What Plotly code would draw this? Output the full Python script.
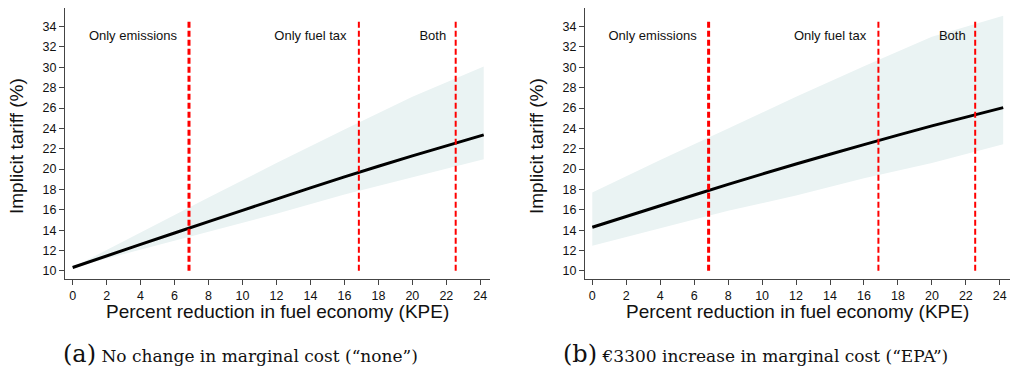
import plotly.graph_objects as go

# Data
x_pts = [0, 4, 8, 12, 16, 20, 24.2]
none_mid = [10.33, 12.6, 14.84, 17.05, 19.24, 21.3, 23.36]
none_up = [10.33, 13.8, 17.2, 20.6, 23.9, 27.1, 30.07]
none_lo = [10.33, 12.1, 13.9, 15.6, 17.5, 19.2, 20.97]
epa_mid = [14.29, 16.4, 18.5, 20.5, 22.4, 24.25, 26.04]
epa_up = [17.69, 20.9, 24.0, 27.1, 30.1, 33.0, 35.08]
epa_lo = [12.46, 14.2, 15.9, 17.4, 19.1, 20.6, 22.44]

thresholds = [6.85, 16.85, 22.55]
threshold_widths = [3, 2, 2]
region_labels = ["Only emissions", "Only fuel tax", "Both"]
region_label_x = [3.55, 14.0, 21.2]
vline_y = [10, 34.7]

x_ticks = list(range(0, 25, 2))
y_ticks = list(range(10, 35, 2))

captions = [("(a)", "No change in marginal cost (“none”)"),
            ("(b)", "€3300 increase in marginal cost (“EPA”)")]

band_color = "#eaf3f3"

fig = go.Figure()

panels = [(none_mid, none_up, none_lo), (epa_mid, epa_up, epa_lo)]
for i, (mid, up, lo) in enumerate(panels):
    xa = "x" if i == 0 else "x2"
    ya = "y" if i == 0 else "y2"
    fig.add_trace(go.Scatter(x=x_pts, y=lo, mode="lines", line=dict(width=0),
                             xaxis=xa, yaxis=ya, showlegend=False, hoverinfo="skip"))
    fig.add_trace(go.Scatter(x=x_pts, y=up, mode="lines", line=dict(width=0),
                             fill="tonexty", fillcolor=band_color,
                             xaxis=xa, yaxis=ya, showlegend=False, hoverinfo="skip"))
    fig.add_trace(go.Scatter(x=x_pts, y=mid, mode="lines",
                             line=dict(color="black", width=3, shape="spline", smoothing=0.6),
                             xaxis=xa, yaxis=ya, showlegend=False))
    for t, w in zip(thresholds, threshold_widths):
        fig.add_trace(go.Scatter(x=[t, t], y=vline_y, mode="lines",
                                 line=dict(color="#ff0000", width=w, dash="6px,3px"),
                                 xaxis=xa, yaxis=ya, showlegend=False))
    fig.add_trace(go.Scatter(x=region_label_x, y=[33.0] * 3, mode="text", text=region_labels,
                             textfont=dict(family="Liberation Sans, Arial", size=13, color="#111"),
                             xaxis=xa, yaxis=ya, showlegend=False))

xdoms = [[65 / 1013, 490 / 1013], [585 / 1013, 1010 / 1013]]
ydom = [1 - 279 / 369, 1 - 8.3 / 369]

axis_common = dict(showgrid=False, zeroline=False, showline=True, linecolor="#444", linewidth=1,
                   ticks="outside", ticklen=5, tickcolor="#444",
                   tickfont=dict(family="Liberation Sans, Arial", size=12.5, color="#111"))

fig.update_layout(
    width=1013, height=369, margin=dict(l=0, r=0, t=0, b=0),
    paper_bgcolor="white", plot_bgcolor="white", showlegend=False,
)
fig.update_layout(
    xaxis=dict(domain=xdoms[0], range=[-0.45, 24.57], tickvals=x_ticks, anchor="y", **axis_common),
    yaxis=dict(domain=ydom, range=[9.2, 35.8], tickvals=y_ticks, anchor="x", **axis_common),
    xaxis2=dict(domain=xdoms[1], range=[-0.43, 24.6], tickvals=x_ticks, anchor="y2", **axis_common),
    yaxis2=dict(domain=ydom, range=[9.2, 35.8], tickvals=y_ticks, anchor="x2", **axis_common),
)

title_font = dict(family="Liberation Sans, Arial", size=19, color="#111")
ann = []
for cx in [17, 537]:
    ann.append(dict(text="Implicit tariff (%)", textangle=-90, x=cx / 1013, y=1 - 146 / 369,
                    xref="paper", yref="paper", showarrow=False, font=title_font,
                    xanchor="center", yanchor="middle"))
for cx in [277, 797]:
    ann.append(dict(text="Percent reduction in fuel economy (KPE)", x=cx / 1013, y=1 - 311 / 369,
                    xref="paper", yref="paper", showarrow=False, font=title_font,
                    xanchor="center", yanchor="middle"))
cap_x = [61, 561]
for (lab, txt), cx in zip(captions, cap_x):
    ann.append(dict(text=f"<span style='font-size:24px'>{lab}</span> {txt}",
                    x=cx / 1013, y=1 - 354 / 369, xref="paper", yref="paper", showarrow=False,
                    font=dict(family="DejaVu Serif, Liberation Serif", size=17, color="#111"),
                    xanchor="left", yanchor="middle"))
fig.update_layout(annotations=ann)

fig.write_html("out.html", config={"displayModeBar": False},
               post_script="document.body.style.margin='0';document.body.style.overflow='hidden';")
